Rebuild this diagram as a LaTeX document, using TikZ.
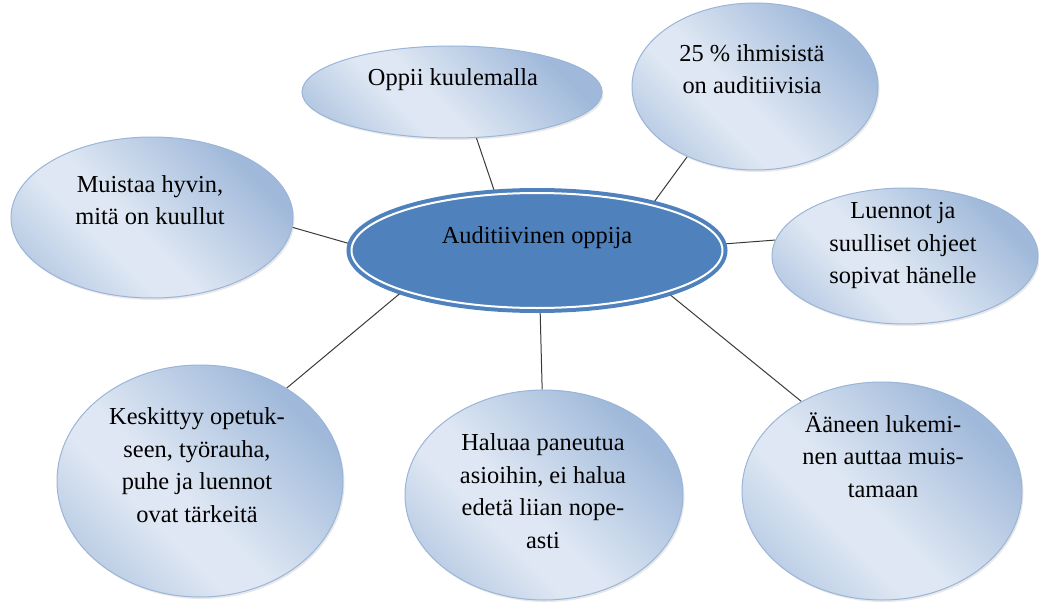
\documentclass[tikz,border=0pt]{standalone}
\usepackage{fontspec}
\setmainfont{Liberation Serif}
\usetikzlibrary{shapes.geometric,shadows,backgrounds}

\definecolor{hubblue}{HTML}{4F81BD}
\definecolor{satedge}{HTML}{9AB5D8}
\definecolor{satdark}{HTML}{A0B9DA}
\definecolor{satlight}{HTML}{DEE7F3}
\definecolor{wire}{HTML}{3A3A3A}

% diagonal light band across the outer bubbles
\pgfdeclarehorizontalshading{satshade}{100bp}{%
  color(0bp)=(satdark); color(27bp)=(satdark);
  color(54bp)=(satlight); color(62bp)=(satlight);
  color(78bp)=(satdark!65!satlight); color(100bp)=(satdark!65!satlight)}

\tikzset{
  hub/.style={ellipse, inner sep=0pt, fill=hubblue, draw=hubblue,
    line width=4pt, double=white, double distance=2pt},
  bubble/.style={ellipse, inner sep=0pt, draw=satedge, line width=1pt,
    shading=satshade, shading angle=225,
    drop shadow={opacity=0.18, shadow xshift=1.5pt, shadow yshift=-2pt}},
  txt/.style={align=center, inner sep=0pt, text=black,
    font=\fontsize{24.4}{32.5}\selectfont},
  wirestyle/.style={draw=wire, line width=1pt}
}

\begin{document}
\begin{tikzpicture}[x=1pt, y=-1pt]
\useasboundingbox (0,0) rectangle (1039,610);

% central idea
\node[hub, minimum width=371, minimum height=115] (hub) at (537,250.5) {};
\node[txt] (hubtext) at (537,238) {Auditiivinen oppija};

% surrounding bubbles
\node[bubble, minimum width=300, minimum height=92]  (oppii)   at (452,92)  {};
\node[bubble, minimum width=246, minimum height=167] (osuus)   at (755,86.5) {};
\node[bubble, minimum width=282, minimum height=161] (muistaa) at (152,217.5) {};
\node[bubble, minimum width=266, minimum height=136] (luennot) at (905,256) {};
\node[bubble, minimum width=286, minimum height=232] (keskit)  at (200,481) {};
\node[bubble, minimum width=278, minimum height=210] (haluaa)  at (544,495) {};
\node[bubble, minimum width=280, minimum height=218] (aaneen)  at (882,491) {};

\node[txt] (oppiitext)   at (453,80)  {Oppii kuulemalla};
\node[txt] (osuustext)   at (752,69)  {25 \% ihmisistä\\on auditiivisia};
\node[txt] (muistaatext) at (150,200) {Muistaa hyvin,\\mitä on kuullut};
\node[txt] (luennottext) at (903,246) {Luennot ja\\suulliset ohjeet\\sopivat hänelle};
\node[txt] (keskittext)  at (197,465) {Keskittyy opetuk-\\seen, työrauha,\\puhe ja luennot\\ovat tärkeitä};
\node[txt] (haluaatext)  at (543,491) {Haluaa paneutua\\asioihin, ei halua\\edetä liian nope-\\asti};
\node[txt] (aaneentext)  at (883,455) {Ääneen lukemi-\\nen auttaa muis-\\tamaan};

% spokes from the centre to each bubble
\begin{scope}[on background layer]
  \draw[wirestyle] (hub.126.9) -- (oppii.298.4);
  \draw[wirestyle] (hub.22.9)  -- (osuus.226.9);
  \draw[wirestyle] (hub.178.5) -- (muistaa.356);
  \draw[wirestyle] (hub.2.1)   -- (luennot.173);
  \draw[wirestyle] (hub.197.5) -- (keskit.47.6);
  \draw[wirestyle] (hub.273.6) -- (haluaa.91.6);
  \draw[wirestyle] (hub.342.2) -- (aaneen.132.3);
\end{scope}
\end{tikzpicture}
\end{document}
